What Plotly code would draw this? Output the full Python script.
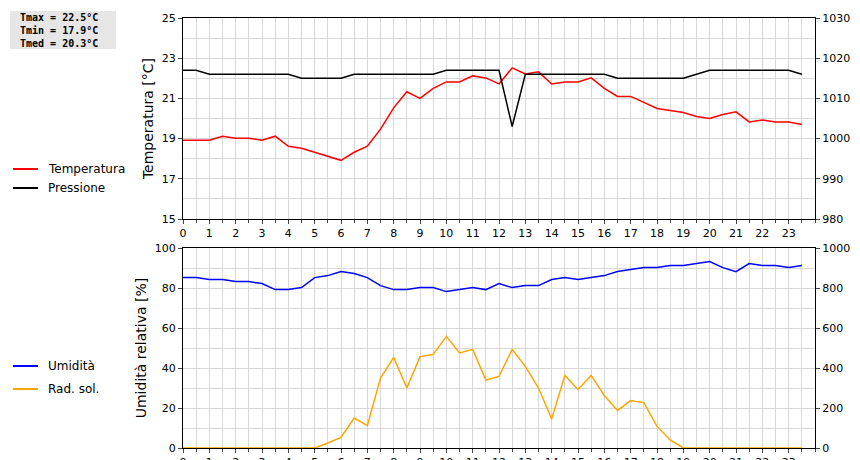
import plotly.graph_objects as go

hours = [i * 0.5 for i in range(48)]
temperatura = [18.92, 18.92, 18.92, 19.12, 19.02, 19.02, 18.92, 19.12, 18.62, 18.52, 18.32, 18.12,
               17.92, 18.32, 18.62, 19.47, 20.53, 21.33, 21.0, 21.5, 21.82, 21.82, 22.12, 22.02,
               21.72, 22.52, 22.22, 22.32, 21.72, 21.82, 21.82, 22.02, 21.5, 21.1, 21.1, 20.8,
               20.5, 20.4, 20.3, 20.1, 20.0, 20.2, 20.33, 19.83, 19.93, 19.83, 19.83, 19.7]
pressione = [1017, 1017, 1016, 1016, 1016, 1016, 1016, 1016, 1016, 1015, 1015, 1015,
             1015, 1016, 1016, 1016, 1016, 1016, 1016, 1016, 1017, 1017, 1017, 1017,
             1017, 1003, 1016, 1016, 1016, 1016, 1016, 1016, 1016, 1015, 1015, 1015,
             1015, 1015, 1015, 1016, 1017, 1017, 1017, 1017, 1017, 1017, 1017, 1016]
umidita = [85.2, 85.2, 84.2, 84.2, 83.2, 83.2, 82.2, 79.2, 79.2, 80.2, 85.2, 86.2,
           88.2, 87.2, 85.2, 81.2, 79.2, 79.2, 80.2, 80.2, 78.2, 79.2, 80.2, 79.2,
           82.2, 80.2, 81.2, 81.2, 84.2, 85.2, 84.2, 85.2, 86.2, 88.2, 89.2, 90.2,
           90.2, 91.2, 91.2, 92.2, 93.2, 90.2, 88.2, 92.2, 91.2, 91.2, 90.2, 91.2]
rad_sol = [0, 0, 0, 0, 0, 0, 0, 0, 0, 0, 0, 25,
           53, 150, 112, 350, 453, 300, 457, 467, 558, 475, 493, 340,
           358, 493, 408, 300, 145, 363, 293, 363, 262, 188, 237, 227,
           108, 40, 0, 0, 0, 0, 0, 0, 0, 0, 0, 0]
x_ticks = list(range(24))
stats_text = "Tmax = 22.5°C<br>Tmin = 17.9°C<br>Tmed = 20.3°C"

fig = go.Figure()
fig.add_trace(go.Scatter(x=hours, y=temperatura, xaxis="x", yaxis="y", mode="lines",
                         line=dict(color="#ff0000", width=1.5)))
fig.add_trace(go.Scatter(x=hours, y=pressione, xaxis="x", yaxis="y2", mode="lines",
                         line=dict(color="#000000", width=1.5)))
fig.add_trace(go.Scatter(x=hours, y=umidita, xaxis="x2", yaxis="y3", mode="lines",
                         line=dict(color="#0000ff", width=1.5)))
fig.add_trace(go.Scatter(x=hours, y=rad_sol, xaxis="x2", yaxis="y4", mode="lines",
                         line=dict(color="#ffa500", width=1.5)))

L, R, T, B = 175, 807, 10, 440
W, H = R - L, B - T
def px(x): return (x - L) / W
def py(y): return (B - y) / H

top_dom = [py(211), 1]
bot_dom = [0, py(240)]
grid = "#d8d8d8"
font = dict(family="DejaVu Sans", size=11, color="black")
xcommon = dict(range=[0, 24], tickvals=x_ticks, showgrid=True, gridcolor=grid,
               minor=dict(dtick=0.5, tick0=0, showgrid=True, gridcolor=grid, ticks="outside", ticklen=3),
               ticks="outside", ticklen=4, showline=True, linecolor="black", mirror=True,
               zeroline=False, tickfont=font, automargin=False)
ycommon = dict(showgrid=True, gridcolor=grid, ticks="outside", ticklen=4, showline=True,
               linecolor="black", mirror=True, zeroline=False, tickfont=font, automargin=False)
tfont = dict(family="DejaVu Sans", size=14)

fig.update_layout(
    width=860, height=460, margin=dict(l=L, r=860 - R, t=T, b=460 - B),
    paper_bgcolor="white", plot_bgcolor="white", showlegend=False, font=font,
    xaxis=dict(xcommon, domain=[0, 1], anchor="y"),
    xaxis2=dict(xcommon, domain=[0, 1], anchor="y3"),
    yaxis=dict(ycommon, domain=top_dom, range=[15, 25], dtick=2, tick0=15, anchor="x",
               minor=dict(dtick=1, tick0=15, showgrid=True, gridcolor=grid),
               title=dict(text="Temperatura [°C]", font=tfont, standoff=4)),
    yaxis2=dict(ycommon, overlaying="y", side="right", range=[980, 1030], dtick=10, anchor="x",
                showgrid=False,
                title=dict(text="Pressione [mbar]", font=tfont, standoff=4)),
    yaxis3=dict(ycommon, domain=bot_dom, range=[0, 100], dtick=20, anchor="x2",
                minor=dict(dtick=10, showgrid=True, gridcolor=grid),
                title=dict(text="Umidità relativa [%]", font=tfont, standoff=4)),
    yaxis4=dict(ycommon, overlaying="y3", side="right", range=[0, 1000], dtick=200, anchor="x2",
                showgrid=False,
                title=dict(text="Rad. solare [W/mq]", font=tfont, standoff=4)),
)

legend_items = [("Temperatura", "#ff0000", 161), ("Pressione", "#000000", 180),
                ("Umidità", "#0000ff", 358), ("Rad. sol.", "#ffa500", 381)]
for name, col, y in legend_items:
    fig.add_shape(type="line", xref="paper", yref="paper", x0=px(5), x1=px(30),
                  y0=py(y), y1=py(y), line=dict(color=col, width=2))
    fig.add_annotation(xref="paper", yref="paper", x=px(38), y=py(y), text=name,
                       showarrow=False, xanchor="left", yanchor="middle",
                       font=dict(family="DejaVu Sans", size=12, color="black"))

fig.add_shape(type="rect", xref="paper", yref="paper", x0=px(2), x1=px(108),
              y0=py(41), y1=py(3), fillcolor="#e6e6e6", line=dict(width=0), layer="below")
fig.add_annotation(xref="paper", yref="paper", x=px(10), y=py(22), text="<b>" + stats_text + "</b>",
                   showarrow=False, xanchor="left", yanchor="middle", align="left",
                   font=dict(family="DejaVu Sans Mono", size=10, color="black"))

fig.write_html("out.html")
